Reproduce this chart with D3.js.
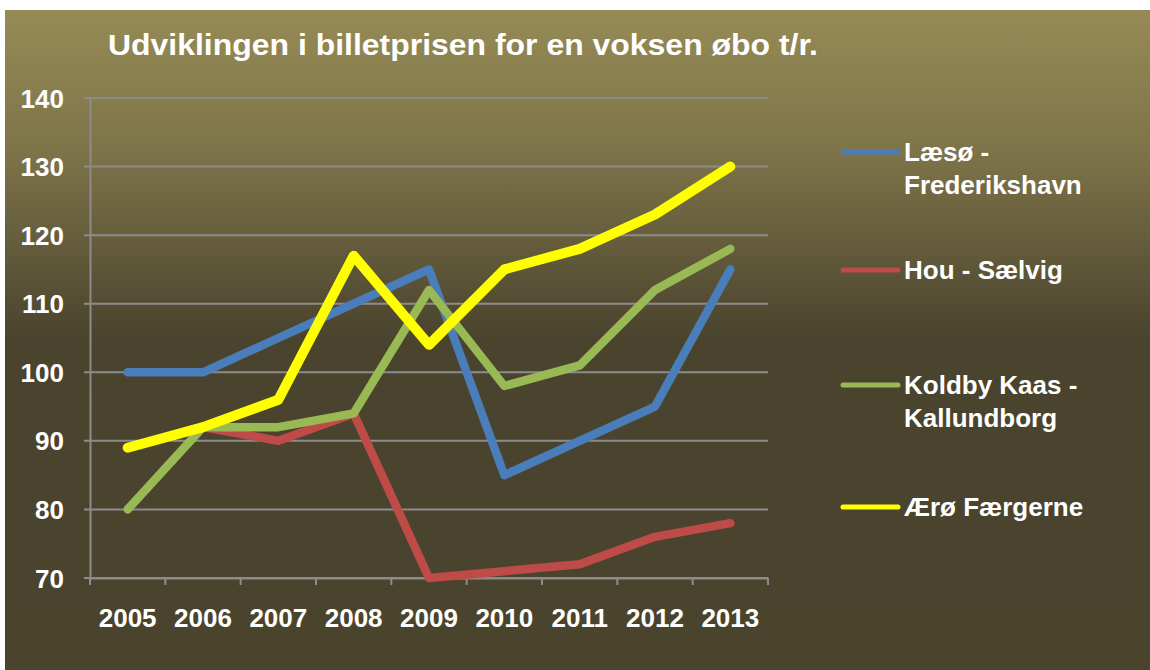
<!DOCTYPE html>
<html>
<head>
<meta charset="utf-8">
<script src="https://cdn.jsdelivr.net/npm/d3@7"></script>
<style>
  body { margin: 0; background: #fff; }
  svg { display: block; }
  text { font-family: "Liberation Sans", Arial, sans-serif; font-weight: bold; fill: #fff; }
</style>
</head>
<body>
<svg></svg>
<script>
// data
let years = ['2005', '2006', '2007', '2008', '2009', '2010', '2011', '2012', '2013']
let laeso  = [100, 100, 105, 110, 115, 85, 90, 95, 115]
let hou    = [null, 92, 90, 94, 70, 71, 72, 76, 78]
let koldby = [80, 92, 92, 94, 112, 98, 101, 112, 118]
let aero   = [89, 92, 96, 117, 104, 115, 118, 123, 130]
let seriesNames = [['Læsø -', 'Frederikshavn'], ['Hou - Sælvig'], ['Koldby Kaas -', 'Kallundborg'], ['Ærø Færgerne']]
let yTicks = [70, 80, 90, 100, 110, 120, 130, 140]

let series = [
  {name: seriesNames[0], values: laeso,  color: '#4a7ebb', w: 8.5, ly: 152},
  {name: seriesNames[1], values: hou,    color: '#be4b48', w: 8.5, ly: 270},
  {name: seriesNames[2], values: koldby, color: '#98b954', w: 8.5, ly: 385},
  {name: seriesNames[3], values: aero,   color: '#ffff00', w: 10, ly: 507}
]

let width = 1150, height = 670;
let margin = {top: 98, left: 90}
let plotW = 678, plotH = 480;

let svg = d3.select('svg')
            .attr('width', width)
            .attr('height', height)

// background gradient
let grad = svg.append('defs').append('linearGradient')
              .attr('id', 'bg')
              .attr('x1', 0).attr('y1', 0).attr('x2', 0).attr('y2', 1)
grad.append('stop').attr('offset', '0%').attr('stop-color', '#968b56')
grad.append('stop').attr('offset', '22%').attr('stop-color', '#7c7348')
grad.append('stop').attr('offset', '50%').attr('stop-color', '#4a432e')
grad.append('stop').attr('offset', '100%').attr('stop-color', '#4a442d')

svg.append('rect')
   .attr('x', 5).attr('y', 10)
   .attr('width', width - 5).attr('height', height - 10)
   .attr('fill', 'url(#bg)')

// title
svg.append('text')
   .attr('x', 108).attr('y', 55)
   .attr('font-size', 30)
   .attr('textLength', 710)
   .attr('lengthAdjust', 'spacingAndGlyphs')
   .text('Udviklingen i billetprisen for en voksen øbo t/r.')

let g = svg.append('g')
           .attr('transform', 'translate(' + margin.left + ',' + margin.top + ')')

// scales
let xScale = d3.scaleBand()
      .domain(years)
      .range([0, plotW])

let yScale = d3.scaleLinear()
      .domain([70, 140])
      .range([plotH, 0])

// gridlines
g.append('g')
 .selectAll('line')
 .data(yTicks)
 .enter()
 .append('line')
 .attr('x1', -6).attr('x2', plotW)
 .attr('y1', d => yScale(d)).attr('y2', d => yScale(d))
 .attr('stroke', '#8c8c8c')
 .attr('stroke-width', 2)

// axes
let yAxis = d3.axisLeft(yScale).tickValues(yTicks).tickSize(0).tickPadding(26)
let yG = g.append('g').call(yAxis)
yG.select('.domain').attr('stroke', '#8c8c8c').attr('stroke-width', 2)
yG.selectAll('text').attr('font-size', 26).attr('dy', '0.35em')

let xAxis = d3.axisBottom(xScale).tickSize(0).tickPadding(40)
let xG = g.append('g')
          .attr('transform', 'translate(0,' + plotH + ')')
          .call(xAxis)
xG.select('.domain').attr('stroke', '#8c8c8c').attr('stroke-width', 2)
xG.selectAll('text').attr('font-size', 26).attr('dy', '0.35em')

// tick marks on band edges
xG.selectAll('.edge')
  .data(years.concat(['end']))
  .enter()
  .append('line')
  .attr('x1', (d, i) => i * xScale.step())
  .attr('x2', (d, i) => i * xScale.step())
  .attr('y1', 0).attr('y2', 7)
  .attr('stroke', '#8c8c8c')
  .attr('stroke-width', 2)

// lines
let line = d3.line()
  .defined(d => d.v != null)
  .x(d => xScale(d.year) + xScale.bandwidth() / 2)
  .y(d => yScale(d.v))

g.selectAll('.series')
 .data(series)
 .enter()
 .append('path')
 .attr('d', s => line(s.values.map((v, i) => ({year: years[i], v: v}))))
 .attr('fill', 'none')
 .attr('stroke', s => s.color)
 .attr('stroke-width', s => s.w)
 .attr('stroke-linecap', 'round')
 .attr('stroke-linejoin', 'round')

// legend
let legend = svg.append('g')
let items = legend.selectAll('g')
  .data(series)
  .enter()
  .append('g')
  .attr('transform', s => 'translate(843,' + s.ly + ')')

items.append('line')
  .attr('x1', 0).attr('x2', 55)
  .attr('y1', 0).attr('y2', 0)
  .attr('stroke', s => s.color)
  .attr('stroke-width', 5)
  .attr('stroke-linecap', 'round')

items.append('text')
  .attr('x', 61)
  .attr('font-size', 26)
  .selectAll('tspan')
  .data(s => s.name)
  .enter()
  .append('tspan')
  .attr('x', 61)
  .attr('y', (d, i) => 9 + i * 33)
  .text(d => d)
</script>
</body>
</html>
